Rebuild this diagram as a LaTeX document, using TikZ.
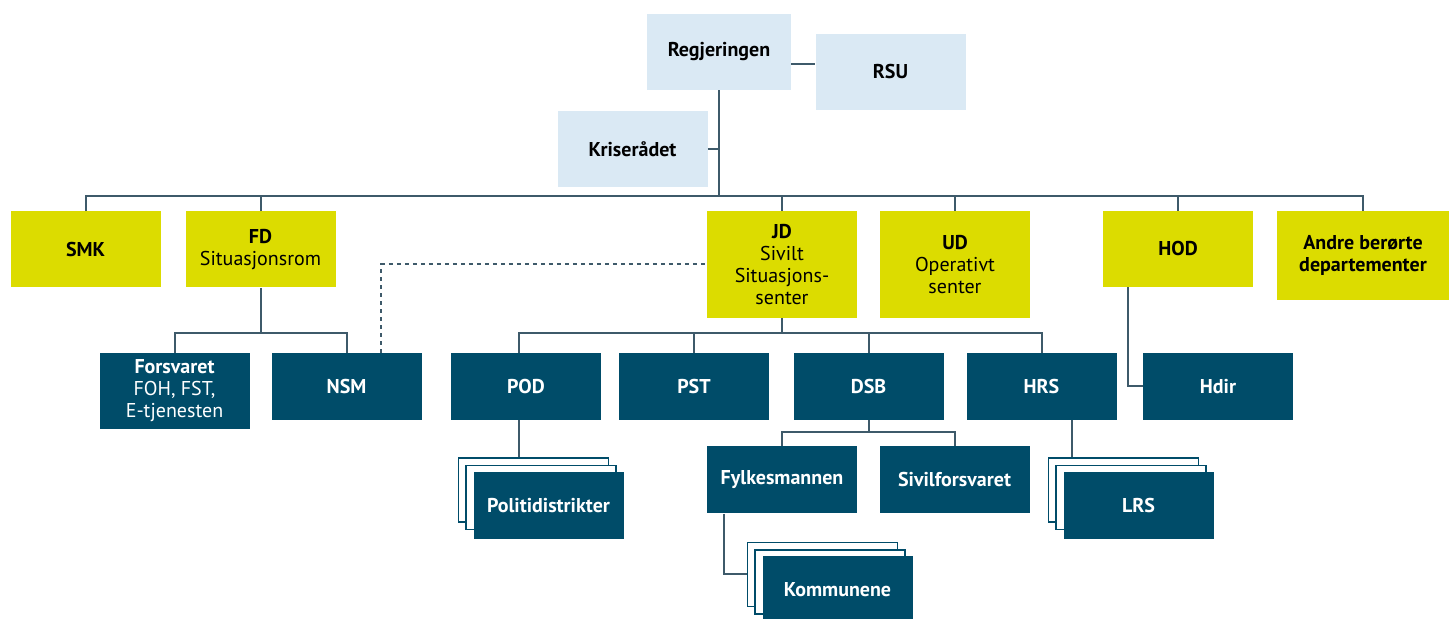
\documentclass[tikz,border=0pt]{standalone}
\usepackage{fontspec}
\setmainfont{PT Sans}
\definecolor{paleblue}{RGB}{218,233,244}
\definecolor{lime}{RGB}{220,220,0}
\definecolor{petrol}{RGB}{0,76,105}
\definecolor{wire}{RGB}{62,90,106}
\newcommand{\thin}[1]{{\mdseries #1}}
\begin{document}
\begin{tikzpicture}[x=0.5pt,y=-0.5pt,
    box/.style={minimum width=75pt, minimum height=38pt, inner sep=0pt, align=center,
      font=\fontsize{10}{11}\selectfont\bfseries},
    light/.style={box, fill=paleblue},
    yellow/.style={box, fill=lime},
    dark/.style={box, fill=petrol, text=white, minimum height=33.5pt},
    sheet/.style={draw=petrol, line width=0.75pt, fill=white, minimum width=75pt, minimum height=32pt, inner sep=0pt},
    link/.style={draw=wire, line width=1pt},
    dotline/.style={dash pattern=on 2pt off 2pt}]

  \useasboundingbox (0,0) rectangle (1456,619);

  % government level
  \begin{scope}[every node/.style={light}]
    \node (regjeringen) at (719,52)    [minimum width=72pt] {Regjeringen};
    \node (rsu)         at (890.5,72)  {RSU};
    \node (kriseradet)  at (632.5,149) {Kriserådet};
  \end{scope}

  % ministries
  \begin{scope}[every node/.style={yellow}]
    \node (smk)   at (85.5,249.5)  {SMK};
    \node (fd)    at (260.5,249.5) {FD\\\thin{Situasjonsrom}};
    \node (jd)    at (782,264.5)   [minimum height=53.5pt] {JD\\\thin{Sivilt}\\\thin{Situasjons-}\\\thin{senter}};
    \node (ud)    at (955,264.5)   [minimum height=53.5pt] {UD\\\thin{Operativt}\\\thin{senter}};
    \node (hod)   at (1178,249)    {HOD};
    \node (andre) at (1363,255.5)  [minimum width=86pt, minimum height=44.5pt] {Andre berørte\\departementer};
  \end{scope}

  % stacked sheets behind
  \begin{scope}[every node/.style={sheet}]
    \node (politi3)    at (533.5,490)   {};
    \node (politi2)    at (541,497.5)   {};
    \node (lrs3)       at (1123.5,490)  {};
    \node (lrs2)       at (1131,497.5)  {};
    \node (kommunene3) at (822.5,574.5) {};
    \node (kommunene2) at (830,582)     {};
  \end{scope}

  % agencies
  \begin{scope}[every node/.style={dark}]
    \node (forsvaret)      at (174.5,391)   [minimum height=38pt] {Forsvaret\\\thin{FOH, FST,}\\\thin{E-tjenesten}};
    \node (nsm)            at (346.5,386.5) {NSM};
    \node (pod)            at (526,386.5)   {POD};
    \node (pst)            at (694,386.5)   {PST};
    \node (dsb)            at (868.5,386.5) {DSB};
    \node (hrs)            at (1041.5,386.5){HRS};
    \node (hdir)           at (1218,386.5)  {Hdir};
    \node (fylkesmannen)   at (782,480)     {Fylkesmannen};
    \node (sivilforsvaret) at (954.5,480)   {Sivilforsvaret};
    \node (politi)         at (548.5,505.5) {Politidistrikter};
    \node (lrs)            at (1138.5,505.5){LRS};
    \node (kommunene)      at (837.5,589.5) {Kommunene};
  \end{scope}

  \coordinate (topbus) at (719,196);
  \coordinate (fdbus)  at (260.5,333);
  \coordinate (jdbus)  at (782,333);
  \coordinate (dsbbus) at (868.5,432);

  \draw[link] (regjeringen) -- (topbus);
  \draw[link] ([yshift=-6pt]regjeringen.east) -- ([yshift=-6pt]regjeringen.east -| rsu.west);
  \draw[link] (kriseradet) -- (kriseradet -| topbus);
  \draw[link] (smk.north) |- (topbus) -| (andre.north);
  \foreach \n in {fd,jd,ud,hod}
    \draw[link] (\n.north) -- (\n.north |- topbus);

  \draw[link] (fd) -- (fdbus);
  \draw[link] (forsvaret.north) |- (fdbus) -| (nsm.north);
  \draw[link,dotline] ([xshift=17.25pt]nsm.north) |- (jd.west);

  \draw[link] (jd) -- (jdbus);
  \draw[link] ([xshift=-3.5pt]pod.north) |- (jdbus) -| (hrs.north);
  \foreach \n in {pst,dsb}
    \draw[link] (\n.north) -- (\n.north |- jdbus);

  \draw[link] (dsb) -- (dsbbus);
  \draw[link] (fylkesmannen.north) |- (dsbbus) -| (sivilforsvaret.north);

  \draw[link] ([xshift=-3.5pt]pod.south) -- ([xshift=-3.5pt]pod.south |- politi3.north);
  \draw[link] ([xshift=15.25pt]hrs.south) -- ([xshift=15.25pt]hrs.south |- lrs3.north);
  \draw[link] ([xshift=-25pt]hod.south) |- (hdir.west);
  \draw[link] ([xshift=-29pt]fylkesmannen.south) |- (kommunene3.west);

\end{tikzpicture}
\end{document}
